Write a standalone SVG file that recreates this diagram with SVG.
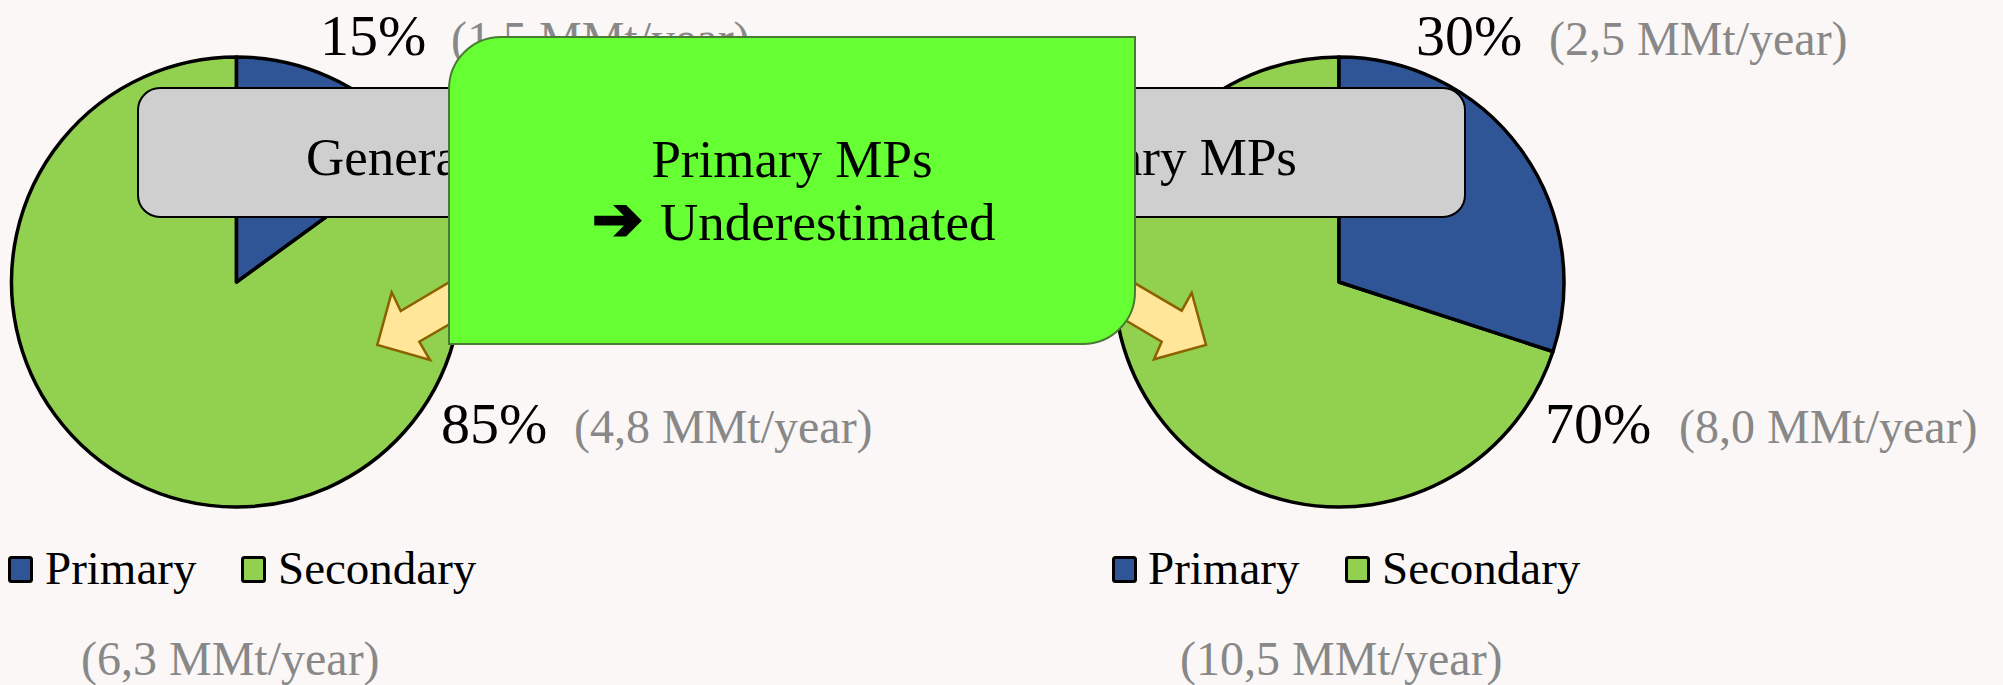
<svg xmlns="http://www.w3.org/2000/svg" width="2003" height="685" viewBox="0 0 2003 685">
<defs>
<style>
text{font-family:"Liberation Serif","Times New Roman",serif;}
.pct{font-size:58px;fill:#000;}
.amt{font-size:48px;fill:#888888;}
.leg{font-size:47px;fill:#000;}
.big{font-size:53px;fill:#000;}
.pri{fill:#2f5597;}
.sec{fill:#92d050;}
.slice{stroke:#000;stroke-width:3.5;stroke-linejoin:round;}
.sw{stroke:#000;stroke-width:3;}
.blk{fill:#ffe699;stroke:#8c6100;stroke-width:2.5;stroke-linejoin:miter;}
</style>
</defs>
<rect x="0" y="0" width="2003" height="685" fill="#faf7f6"/>
<g id="pie-left">
<path class="slice sec" d="M236.5,282 L418.5,149.7 A225,225 0 1 1 236.5,57 Z"/>
<path class="slice pri" d="M236.5,282 L236.5,57 A225,225 0 0 1 418.5,149.7 Z"/>
</g>
<g id="pie-right">
<path class="slice sec" d="M1339,282 L1553,351.5 A225,225 0 1 1 1339,57 Z"/>
<path class="slice pri" d="M1339,282 L1339,57 A225,225 0 0 1 1553,351.5 Z"/>
</g>
<g id="labels-left">
<text class="pct" x="320" y="55">15%</text>
<text class="amt" x="451" y="55">(1,5 MMt/year)</text>
<text class="pct" x="441" y="443">85%</text>
<text class="amt" x="574" y="443">(4,8 MMt/year)</text>
</g>
<g id="labels-right">
<text class="pct" x="1416" y="55">30%</text>
<text class="amt" x="1549" y="55">(2,5 MMt/year)</text>
<text class="pct" x="1545" y="443">70%</text>
<text class="amt" x="1679" y="443">(8,0 MMt/year)</text>
</g>
<g id="legend-left">
<rect class="sw pri" x="9.5" y="557.5" width="22" height="24" rx="2"/>
<text class="leg" x="45" y="584">Primary</text>
<rect class="sw sec" x="242.5" y="557.5" width="22" height="24" rx="2"/>
<text class="leg" x="278" y="584">Secondary</text>
<text class="amt" x="81" y="675">(6,3 MMt/year)</text>
</g>
<g id="legend-right">
<rect class="sw pri" x="1113.5" y="557.5" width="22" height="24" rx="2"/>
<text class="leg" x="1148" y="584">Primary</text>
<rect class="sw sec" x="1346.5" y="557.5" width="22" height="24" rx="2"/>
<text class="leg" x="1382" y="584">Secondary</text>
<text class="amt" x="1180" y="675">(10,5 MMt/year)</text>
</g>
<g id="banner">
<rect x="138" y="88" width="1327" height="129" rx="22" fill="#d0cfcf" stroke="#000" stroke-width="2"/>
<text class="big" x="306" y="175">Genera</text>
<text class="big" x="1297" y="175" text-anchor="end">ary MPs</text>
</g>
<g id="connectors">
<polygon class="blk" points="500,252 400.7,311 391.7,292.3 377.3,345 430,360 419.3,341.7 500,295"/>
<polygon class="blk" points="1080,251 1181.7,310.7 1191.7,292.7 1206,345 1154,359.3 1161.7,341.7 1080,293.3"/>
</g>
<g id="callout">
<path d="M449,89 A52,52 0 0 1 501,37 L1135,37 L1135,292 A52,52 0 0 1 1083,344 L449,344 Z" fill="#66ff33" stroke="#4a7a34" stroke-width="2"/>
<text class="big" x="792" y="177" text-anchor="middle">Primary MPs</text>
<text class="big" y="240"><tspan x="592" y="240" font-family="DejaVu Sans" font-weight="bold" font-size="61" stroke="#000" stroke-width="2.5" stroke-linejoin="miter">➔</tspan><tspan x="660" y="240">Underestimated</tspan></text>
</g>
</svg>
